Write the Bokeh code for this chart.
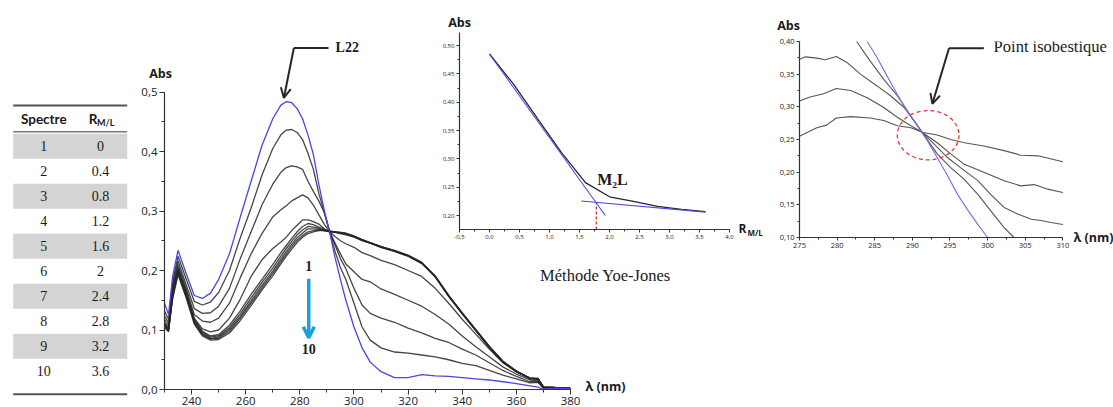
from bokeh.plotting import figure
from bokeh.models import (Range1d, Label, Arrow, OpenHead, CustomJSTickFormatter,
                          SingleIntervalTicker)
from bokeh.core.properties import value
from bokeh.embed import file_html
from bokeh.resources import INLINE

# ---------------- data ----------------
spectre = ["1", "2", "3", "4", "5", "6", "7", "8", "9", "10"]
r_ml = ["0", "0.4", "0.8", "1.2", "1.6", "2", "2.4", "2.8", "3.2", "3.6"]

wavelength = [230, 231.5, 233, 235, 238, 241, 244, 247, 250, 254, 258, 262, 266, 270, 273,
              275, 277, 279, 281, 283, 285, 287, 289, 291, 293, 295, 297, 300, 303, 306,
              310, 315, 320, 325, 330, 335, 340, 345, 350, 355, 360, 365, 368, 370, 375, 380]
s1 = [0.145, 0.126, 0.19, 0.234, 0.195, 0.158, 0.153, 0.162, 0.185, 0.228, 0.29, 0.35, 0.41, 0.455, 0.478,
      0.484, 0.482, 0.472, 0.455, 0.428, 0.395, 0.345, 0.302, 0.265, 0.222, 0.185, 0.15, 0.105, 0.07, 0.046,
      0.03, 0.02, 0.02, 0.025, 0.023, 0.022, 0.02, 0.018, 0.016, 0.013, 0.01, 0.006, 0.004, 0.0, 0.002, 0.002]
s2 = [0.132, 0.118, 0.18, 0.224, 0.186, 0.148, 0.142, 0.147, 0.163, 0.2, 0.255, 0.305, 0.36, 0.405, 0.428,
      0.436, 0.437, 0.432, 0.42, 0.397, 0.37, 0.33, 0.298, 0.265, 0.232, 0.205, 0.185, 0.145, 0.105, 0.083,
      0.07, 0.063, 0.061, 0.058, 0.055, 0.05, 0.044, 0.04, 0.032, 0.024, 0.018, 0.011, 0.012, 0.002, 0.003, 0.002]
s3 = [0.124, 0.112, 0.176, 0.216, 0.176, 0.136, 0.128, 0.129, 0.14, 0.17, 0.22, 0.265, 0.31, 0.345, 0.365,
      0.373, 0.376, 0.374, 0.37, 0.35, 0.333, 0.317, 0.298, 0.266, 0.243, 0.22, 0.203, 0.17, 0.142, 0.128,
      0.12, 0.113, 0.103, 0.095, 0.086, 0.079, 0.068, 0.058, 0.045, 0.032, 0.022, 0.013, 0.013, 0.003, 0.003, 0.002]
s4 = [0.118, 0.107, 0.17, 0.21, 0.17, 0.126, 0.115, 0.113, 0.12, 0.145, 0.188, 0.228, 0.262, 0.29, 0.302,
      0.309, 0.317, 0.322, 0.327, 0.322, 0.31, 0.294, 0.278, 0.265, 0.246, 0.228, 0.211, 0.198, 0.185, 0.181,
      0.169, 0.16, 0.15, 0.14, 0.126, 0.11, 0.09, 0.072, 0.055, 0.038, 0.026, 0.016, 0.015, 0.003, 0.003, 0.002]
s5 = [0.112, 0.102, 0.165, 0.205, 0.165, 0.12, 0.102, 0.097, 0.1, 0.12, 0.152, 0.19, 0.218, 0.237, 0.248,
      0.256, 0.267, 0.276, 0.285, 0.285, 0.282, 0.278, 0.27, 0.265, 0.257, 0.25, 0.245, 0.239, 0.23, 0.225,
      0.217, 0.21, 0.2, 0.19, 0.17, 0.145, 0.118, 0.093, 0.068, 0.045, 0.03, 0.018, 0.017, 0.004, 0.003, 0.002]
s6 = [0.11, 0.1, 0.163, 0.203, 0.163, 0.118, 0.098, 0.09, 0.092, 0.108, 0.132, 0.16, 0.185, 0.21, 0.23,
      0.242, 0.254, 0.265, 0.274, 0.279, 0.277, 0.273, 0.269, 0.265, 0.264, 0.262, 0.26, 0.256, 0.25, 0.246,
      0.24, 0.233, 0.225, 0.213, 0.19, 0.158, 0.128, 0.1, 0.072, 0.047, 0.031, 0.019, 0.018, 0.004, 0.003, 0.002]
s7 = [0.106, 0.098, 0.16, 0.2, 0.16, 0.116, 0.096, 0.088, 0.09, 0.104, 0.127, 0.154, 0.18, 0.204, 0.224,
      0.237, 0.249, 0.26, 0.268, 0.274, 0.273, 0.271, 0.268, 0.265, 0.265, 0.263, 0.261, 0.257, 0.251, 0.246,
      0.239, 0.232, 0.224, 0.212, 0.191, 0.158, 0.129, 0.101, 0.073, 0.048, 0.031, 0.019, 0.019, 0.004, 0.003, 0.002]
s8 = [0.112, 0.103, 0.158, 0.198, 0.158, 0.114, 0.094, 0.086, 0.088, 0.101, 0.123, 0.149, 0.175, 0.199, 0.219,
      0.232, 0.244, 0.255, 0.263, 0.27, 0.27, 0.269, 0.267, 0.266, 0.265, 0.263, 0.262, 0.258, 0.252, 0.247,
      0.24, 0.233, 0.225, 0.213, 0.19, 0.157, 0.128, 0.1, 0.072, 0.047, 0.03, 0.019, 0.018, 0.004, 0.003, 0.002]
s9 = [0.104, 0.097, 0.155, 0.196, 0.156, 0.112, 0.092, 0.085, 0.086, 0.098, 0.12, 0.145, 0.171, 0.195, 0.215,
      0.228, 0.24, 0.251, 0.259, 0.265, 0.267, 0.268, 0.267, 0.266, 0.265, 0.264, 0.262, 0.257, 0.251, 0.246,
      0.239, 0.232, 0.224, 0.212, 0.189, 0.156, 0.127, 0.099, 0.071, 0.046, 0.03, 0.018, 0.018, 0.004, 0.003, 0.002]
s10 = [0.108, 0.1, 0.152, 0.193, 0.154, 0.11, 0.09, 0.083, 0.084, 0.095, 0.116, 0.141, 0.167, 0.191, 0.211,
       0.224, 0.236, 0.247, 0.256, 0.262, 0.265, 0.267, 0.267, 0.266, 0.265, 0.264, 0.263, 0.258, 0.252, 0.247,
       0.24, 0.234, 0.226, 0.214, 0.191, 0.157, 0.127, 0.099, 0.071, 0.046, 0.03, 0.019, 0.018, 0.004, 0.003, 0.002]

# Yoe-Jones (mole ratio) inset
yj_ratio = [0.0, 0.4, 0.8, 1.2, 1.6, 2.0, 2.4, 2.8, 3.2, 3.6]
yj_abs = [0.485, 0.432, 0.371, 0.311, 0.258, 0.233, 0.225, 0.216, 0.211, 0.207]
yj_fit1_x = [0.0, 1.93]
yj_fit1_y = [0.485, 0.200]
yj_fit2_x = [1.53, 3.6]
yj_fit2_y = [0.2255, 0.206]
yj_break_x = [1.78, 1.78]
yj_break_y = [0.1753, 0.2225]

# isosbestic zoom inset
iso_s1_x = [283.0, 284.0, 285.3, 286.65, 288.0, 289.3, 290.65, 292.0, 293.3, 294.7, 296.0, 297.3, 298.7, 300.0, 300.6]
iso_s1_y = [0.43, 0.40, 0.3755, 0.347, 0.319, 0.294, 0.271, 0.248, 0.2225, 0.194, 0.166, 0.143, 0.12, 0.10, 0.09]
iso_s2_x = [281.8, 282.6, 284.4, 286.2, 288.0, 289.8, 291.3, 293.3, 295.1, 296.9, 298.7, 300.4, 302.2, 303.5, 304.2]
iso_s2_y = [0.415, 0.40, 0.37, 0.342, 0.317, 0.286, 0.261, 0.228, 0.207, 0.189, 0.166, 0.141, 0.115, 0.10, 0.09]
iso_s3_x = [275.0, 275.8, 277.3, 278.4, 279.9, 281.3, 283.1, 285.3, 287.1, 288.9, 290.2, 291.3, 292.9, 294.7,
            296.4, 298.7, 300.4, 302.2, 304.0, 305.8, 307.1, 308.4, 310.0]
iso_s3_y = [0.373, 0.3765, 0.3745, 0.372, 0.377, 0.368, 0.35, 0.332, 0.317, 0.299, 0.279, 0.261, 0.243, 0.222,
            0.207, 0.187, 0.166, 0.146, 0.136, 0.128, 0.126, 0.123, 0.12]
iso_s4_x = [275.0, 276.4, 278.2, 279.9, 281.8, 284.0, 286.2, 288.0, 289.8, 291.3, 293.3, 295.1, 296.9, 299.5,
            302.2, 304.4, 306.2, 308.0, 310.0]
iso_s4_y = [0.309, 0.315, 0.32, 0.328, 0.325, 0.314, 0.299, 0.284, 0.271, 0.261, 0.245, 0.228, 0.212, 0.2,
            0.187, 0.179, 0.181, 0.174, 0.169]
iso_s5_x = [275.0, 277.3, 278.6, 279.9, 281.8, 284.4, 286.2, 288.0, 289.8, 291.3, 293.3, 295.1, 296.9, 299.5,
            302.2, 304.4, 306.7, 310.0]
iso_s5_y = [0.255, 0.268, 0.272, 0.283, 0.285, 0.283, 0.279, 0.271, 0.268, 0.261, 0.257, 0.25, 0.245, 0.24,
            0.233, 0.226, 0.225, 0.216]

# ---------------- style ----------------
SERIF = "Liberation Serif"
SANS = "Open Sans"
BLACK = "#262626"
BLUE = "#4747e6"
AXIS = "#333333"


def make_fig(left, top, width, height, x_range, y_range, borders, axes=True):
    bl, bt, br, bb = borders
    kw = {}
    if not axes:
        kw = dict(x_axis_location=None, y_axis_location=None)
    p = figure(width=width, height=height, x_range=x_range, y_range=y_range,
               output_backend="svg", toolbar_location=None,
               min_border_left=bl, min_border_top=bt, min_border_right=br, min_border_bottom=bb,
               styles={"position": "absolute", "left": f"{left}px", "top": f"{top}px"}, **kw)
    p.background_fill_color = None
    p.border_fill_color = None
    p.outline_line_color = None
    p.xgrid.visible = False
    p.ygrid.visible = False
    return p


def style_axes(p, x_tick, y_tick, x_code, y_code, fs, x_bounds, y_bounds, tick_out=5, minor_out=3):
    p.xaxis[0].ticker = SingleIntervalTicker(interval=x_tick, num_minor_ticks=2)
    p.yaxis[0].ticker = SingleIntervalTicker(interval=y_tick, num_minor_ticks=2)
    p.xaxis[0].bounds = x_bounds
    p.yaxis[0].bounds = y_bounds
    if x_code:
        p.xaxis[0].formatter = CustomJSTickFormatter(code=x_code)
    if y_code:
        p.yaxis[0].formatter = CustomJSTickFormatter(code=y_code)
    for ax in (p.xaxis[0], p.yaxis[0]):
        ax.axis_line_color = AXIS
        ax.axis_line_width = 1.2
        ax.major_tick_line_color = AXIS
        ax.minor_tick_line_color = AXIS
        ax.major_tick_in = 0
        ax.major_tick_out = tick_out
        ax.minor_tick_in = 0
        ax.minor_tick_out = minor_out
        ax.major_label_text_font = SANS
        ax.major_label_text_font_size = fs
        ax.major_label_text_color = "#222222"
        ax.major_label_standoff = 2


def label(p, x, y, text, font, size, bold=False, align="left", color="#1a1a1a"):
    p.add_layout(Label(x=x, y=y, text=text, text_font=font, text_font_size=size,
                       text_font_style="bold" if bold else "normal", text_align=align,
                       text_baseline="middle", text_color=color))


# ---------------- table ----------------
tab = make_fig(8, 100, 120, 300, Range1d(0, 120), Range1d(11.17, -0.83), (0, 0, 0, 0), axes=False)
rows = list(range(1, len(spectre) + 1))
shaded = [r for r in rows if r % 2 == 1]
tab.rect(x=61.7, y=shaded, width=114, height=1, fill_color="#d4d4d4", line_color=None)
tab.line([4.7, 118.7], [-0.63, -0.63], line_color="#555555", line_width=2)
tab.line([4.7, 118.7], [0.42, 0.42], line_color="#777777", line_width=1.5)
tab.line([4.7, 118.7], [10.92, 10.92], line_color="#555555", line_width=2)
tab.text(x=35.3, y=rows, text=spectre, text_align="center", text_baseline="middle",
         text_font=value(SERIF), text_font_size="14px", text_color="#1a1a1a")
tab.text(x=92, y=rows, text=r_ml, text_align="center", text_baseline="middle",
         text_font=value(SERIF), text_font_size="14px", text_color="#1a1a1a")
tab.text(x=[35.3], y=[-0.1], text=["Spectre"], text_align="center", text_baseline="middle",
         text_font=value("Lato"), text_font_style="bold", text_font_size="13.5px", text_color="#1a1a1a")
tab.text(x=[80.3], y=[-0.1], text=["R"], text_align="left", text_baseline="middle",
         text_font=value("Lato"), text_font_style="bold", text_font_size="13.5px", text_color="#1a1a1a")
tab.text(x=[88.6], y=[0.06], text=["M/L"], text_align="left", text_baseline="middle",
         text_font=value("Lato"), text_font_style="bold", text_font_size="9px", text_color="#1a1a1a")

# ---------------- main spectra ----------------
# frame extended above (room for the L22 callout); axes limited with bounds
main = make_fig(130, 30, 500, 377, Range1d(230, 380), Range1d(0, 0.6), (34, 2, 60, 0))
style_axes(main, 20, 0.1, None, "return tick.toFixed(1).replace('.', ',')", "11.5px",
           (230, 380), (0, 0.5))
for s in (s2, s3, s4, s5, s6, s7, s8, s9, s10):
    main.line(wavelength, s, line_color=BLACK, line_width=1.3, line_alpha=0.85)
main.line(wavelength, s1, line_color=BLUE, line_width=1.3)

label(main, 293.2, 0.574, "L22", SERIF, "14px", bold=True)
main.add_layout(Arrow(end=None, x_start=290.6, y_start=0.574, x_end=277.8, y_end=0.574,
                      line_color=BLACK, line_width=2))
main.add_layout(Arrow(end=OpenHead(size=10, line_width=2, line_color=BLACK),
                      x_start=277.8, y_start=0.574, x_end=274.1, y_end=0.49,
                      line_color=BLACK, line_width=2))
ARROW_BLUE = "#1ba1e2"
label(main, 283.3, 0.208, "1", SERIF, "14px", bold=True, align="center")
label(main, 283.3, 0.0686, "10", SERIF, "14px", bold=True, align="center")
main.add_layout(Arrow(end=OpenHead(size=11, line_width=3.5, line_color=ARROW_BLUE),
                      x_start=283.3, y_start=0.186, x_end=283.3, y_end=0.087,
                      line_color=ARROW_BLUE, line_width=3.5))

# ---------------- Yoe-Jones inset ----------------
yj = make_fig(420, 8, 350, 285, Range1d(-0.5, 4.0), Range1d(0.1753, 0.523), (39, 24, 41, 64))
style_axes(yj, 0.5, 0.05, "return tick.toFixed(1).replace('.', ',')",
           "return tick.toFixed(2).replace('.', ',')", "6px", (-0.5, 4.0), (0.1753, 0.523),
           tick_out=3, minor_out=2)
yj.line(yj_ratio, yj_abs, line_color=BLACK, line_width=1.3)
yj.line(yj_fit1_x, yj_fit1_y, line_color="#4a4ae8", line_width=1.1)
yj.line(yj_fit2_x, yj_fit2_y, line_color="#4a4ae8", line_width=1.1)
yj.line(yj_break_x, yj_break_y, line_color="#e02020", line_width=1.2, line_dash="3 2")
label(yj, 1.795, 0.2635, "M₂L", SERIF, "16px", bold=True)

# ---------------- isosbestic inset ----------------
iso = make_fig(760, 8, 352, 250, Range1d(275, 316.6), Range1d(0.10, 0.40), (39, 33, 0, 21))
style_axes(iso, 5, 0.05, None, "return tick.toFixed(2).replace('.', ',')", "7.5px",
           (275, 310), (0.10, 0.40), tick_out=3, minor_out=2)
for xs, ys in ((iso_s2_x, iso_s2_y), (iso_s3_x, iso_s3_y), (iso_s4_x, iso_s4_y), (iso_s5_x, iso_s5_y)):
    iso.line(xs, ys, line_color="#555555", line_width=1.1)
iso.line(iso_s1_x, iso_s1_y, line_color="#6f6ff0", line_width=1.1)
iso.ellipse(x=292.1, y=0.2566, width=8.2, height=0.0755, fill_color=None,
            line_color="#e53935", line_width=1.3, line_dash="4 3")
label(iso, 300.8, 0.392, "Point isobestique", SERIF, "16.5px")
iso.add_layout(Arrow(end=None, x_start=299.5, y_start=0.3898, x_end=294.87, y_end=0.3898,
                     line_color=BLACK, line_width=2))
iso.add_layout(Arrow(end=OpenHead(size=10, line_width=2, line_color=BLACK),
                     x_start=294.87, y_start=0.3898, x_end=292.66, y_end=0.3046,
                     line_color=BLACK, line_width=2))

# ---------------- overlay for texts outside the plot frames (page pixels) ----------------
over = make_fig(0, 0, 1113, 407, Range1d(0, 1113), Range1d(407, 0), (0, 0, 0, 0), axes=False)
TXT = dict(text_baseline="middle", text_color="#1a1a1a")
over.text(x=[160, 459, 788], y=[73, 22, 25], text=["Abs", "Abs", "Abs"], text_align="center",
          text_font=value(SANS), text_font_style="bold", text_font_size="12.5px", **TXT)
over.text(x=[585, 1073], y=[386, 237], text=["λ (nm)", "λ (nm)"], text_align="left",
          text_font=value(SANS), text_font_style="bold", text_font_size="12.5px", **TXT)
over.text(x=[738], y=[228], text=["R"], text_align="left",
          text_font=value(SANS), text_font_style="bold", text_font_size="12px", **TXT)
over.text(x=[747], y=[232], text=["M/L"], text_align="left",
          text_font=value(SANS), text_font_style="bold", text_font_size="8px", **TXT)
over.text(x=[605], y=[275], text=["Méthode Yoe-Jones"], text_align="center",
          text_font=value(SERIF), text_font_size="16.5px", **TXT)

open("out.html", "w").write(file_html([tab, main, yj, iso, over], INLINE))
